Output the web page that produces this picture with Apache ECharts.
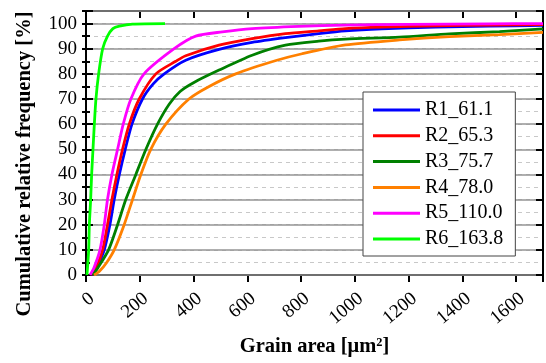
<!DOCTYPE html>
<html>
<head>
<meta charset="utf-8">
<script src="https://cdn.jsdelivr.net/npm/echarts@6/dist/echarts.min.js"></script>
<style>html,body{margin:0;padding:0;background:#fff}#c{width:546px;height:363px}</style>
</head>
<body>
<div id="c"></div>
<script>
// Data: [grain area (µm²), cumulative relative frequency (%)]
var seriesNames = ['R1_61.1', 'R2_65.3', 'R3_75.7', 'R4_78.0', 'R5_110.0', 'R6_163.8'];
var seriesColors = ['#0000ff', '#ff0000', '#008000', '#ff8000', '#ff00ff', '#00ff00'];
var r1 = [[22,0],[40,3],[68,10],[89,20],[105,30],[124,40],[146,50],[171,60],[210,70],[250,76],[291,80],[371,85.4],[495,89.7],[618,92.5],[742,94.4],[866,96],[965,97.1],[1100,97.9],[1300,98.6],[1500,99],[1700,99.3]];
var r2 = [[20,0],[38,3],[62,10],[80,20],[96.5,30],[115,40],[136,50],[161,60],[198,70],[260,80],[334,85],[371,87.2],[495,91.4],[618,94],[742,96],[866,97.1],[965,98],[1100,98.6],[1300,99.1],[1500,99.4],[1700,99.6]];
var r3 = [[25,0],[45,3],[84,10],[117.5,20],[148,30],[185.5,40],[223,50],[266,60],[310,68],[350,73],[400,76.5],[495,81.5],[618,87.4],[742,91.4],[866,93],[965,93.8],[1166,94.6],[1352,95.9],[1538,96.8],[1700,97.9]];
var r4 = [[30,0],[50,1.5],[77,5],[105,10],[142,20],[173,30],[204,40],[241,50],[297,60],[383,70],[458,75],[557,80],[710,85.4],[804,88],[965,91.5],[1166,93.5],[1352,94.8],[1538,95.6],[1700,96.5]];
var r5 = [[15,0],[30,3],[52,10],[68,20],[80,30],[96.5,40],[117.5,50],[138.5,60],[167,70],[216,80],[328,90],[408,95],[507,96.7],[618,98],[792,98.9],[965,99.4],[1200,99.7],[1500,99.9],[1700,100]];
var r6 = [[3.7,0],[9.9,10],[12.4,20],[17.3,30],[21,40],[26,50],[31,60],[37,70],[47,80],[62,90],[80,95],[100,98],[124,99],[173,99.8],[294,100]];
var allData = [r1, r2, r3, r4, r5, r6];
var xMin = 0, xMax = 1700, xStep = 200;
var yMin = 0, yMax = 105, yStep = 10, yMinorStep = 5;

var FONT = "'Liberation Serif','Times New Roman',serif";
var chart = echarts.init(document.getElementById('c'), null, {renderer: 'canvas'});

var series = allData.map(function (d, i) {
  return {
    name: seriesNames[i], type: 'line', data: d, symbol: 'none', smooth: 0.25,
    xAxisIndex: 0, yAxisIndex: 0,
    lineStyle: {color: seriesColors[i], width: 2.8}, itemStyle: {color: seriesColors[i]}
  };
});

chart.setOption({
  animation: false,
  backgroundColor: '#fff',
  grid: {left: 86, top: 11, width: 457, height: 264, containLabel: false},
  legend: {
    orient: 'vertical', left: 363, top: 92,
    padding: [8, 12, 7, 10],
    icon: 'rect',
    itemWidth: 47, itemHeight: 3, itemGap: 5.8,
    backgroundColor: '#fff', borderColor: '#444', borderWidth: 1,
    textStyle: {fontFamily: FONT, fontSize: 20, color: '#000'},
    data: seriesNames
  },
  xAxis: [{
    type: 'value', position: 'bottom', min: xMin, max: xMax, interval: xStep,
    axisLine: {show: true, onZero: false, lineStyle: {color: '#000', width: 2}},
    axisTick: {show: true, inside: false, length: 7, lineStyle: {color: '#000', width: 2}},
    axisLabel: {rotate: 40, margin: 14, verticalAlign: 'top', fontFamily: FONT, fontSize: 19, color: '#000',
      formatter: function (v) { return v > 1600 ? '' : String(v); }},
    splitLine: {show: false},
    name: 'Grain area [μm²]', nameLocation: 'middle', nameGap: 61,
    nameTextStyle: {fontFamily: FONT, fontSize: 20.5, fontWeight: 'bold', color: '#000'}
  }, {
    type: 'value', position: 'top', min: xMin, max: xMax, interval: xStep,
    axisLine: {show: true, onZero: false, lineStyle: {color: '#000', width: 2}},
    axisTick: {show: true, inside: true, length: 7, lineStyle: {color: '#000', width: 2}},
    axisLabel: {show: false}, splitLine: {show: false}
  }],
  yAxis: [{
    type: 'value', position: 'left', min: yMin, max: yMax, interval: yStep, z: 1,
    axisLine: {show: true, onZero: false, lineStyle: {color: '#000', width: 2}},
    axisTick: {show: true, inside: true, length: 7, lineStyle: {color: '#000', width: 2}},
    axisLabel: {margin: 9, fontFamily: FONT, fontSize: 19, color: '#000',
      formatter: function (v) { return v > 100 ? '' : String(v); }},
    splitLine: {show: true, lineStyle: {color: '#959595', width: 1.5, type: 'solid'}},
    name: 'Cumulative relative frequency [%]', nameLocation: 'middle', nameGap: 51,
    nameTextStyle: {fontFamily: FONT, fontSize: 20.5, fontWeight: 'bold', color: '#000', padding: [0, 42, 0, 0]}
  }, {
    type: 'value', position: 'left', min: yMin, max: yMax, interval: yMinorStep, z: 0,
    axisLine: {show: false},
    axisTick: {show: true, inside: true, length: 4, lineStyle: {color: '#000', width: 2}},
    axisLabel: {show: false},
    splitLine: {show: true, lineStyle: {color: '#c8c8c8', width: 1, type: [4, 4]}}
  }, {
    type: 'value', position: 'right', min: yMin, max: yMax, interval: yStep, z: 1,
    axisLine: {show: true, onZero: false, lineStyle: {color: '#000', width: 2}},
    axisTick: {show: true, inside: true, length: 7, lineStyle: {color: '#000', width: 2}},
    axisLabel: {show: false}, splitLine: {show: false}
  }, {
    type: 'value', position: 'right', min: yMin, max: yMax, interval: yMinorStep, z: 1,
    axisLine: {show: false},
    axisTick: {show: true, inside: true, length: 4, lineStyle: {color: '#000', width: 2}},
    axisLabel: {show: false}, splitLine: {show: false}
  }],
  series: series
});
</script>
</body>
</html>
